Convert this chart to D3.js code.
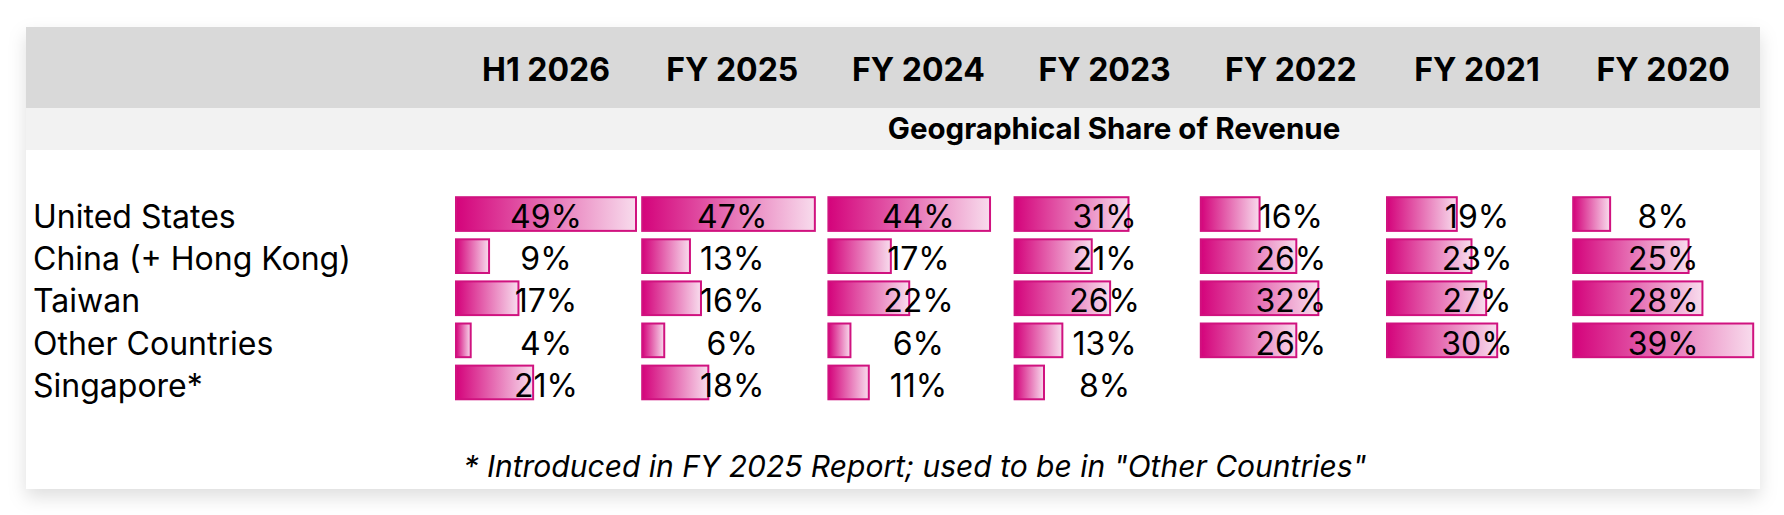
<!DOCTYPE html>
<html>
<head>
<meta charset="utf-8">
<script src="https://cdn.jsdelivr.net/npm/d3@7"></script>
<style>
  html, body { margin: 0; padding: 0; background: #ffffff; }
  svg { display: block; font-family: Inter, "Noto Sans", sans-serif; }
</style>
</head>
<body>
<div id="chart"></div>
<script>

// table data
const periods = ["H1 2026", "FY 2025", "FY 2024", "FY 2023", "FY 2022", "FY 2021", "FY 2020"]
const regions = ["United States", "China (+ Hong Kong)", "Taiwan", "Other Countries", "Singapore*"]

const unitedStates   = [49, 47, 44, 31, 16, 19, 8]
const china          = [9, 13, 17, 21, 26, 23, 25]
const taiwan         = [17, 16, 22, 26, 32, 27, 28]
const otherCountries = [4, 6, 6, 13, 26, 30, 39]
const singapore      = [21, 18, 11, 8, null, null, null]

const title    = "Geographical Share of Revenue"
const footnote = "* Introduced in FY 2025 Report; used to be in \"Other Countries\""

// layout
const width = 1784, height = 515
const card = {x: 26, y: 27, w: 1734, h: 462}
const colStep = 186.2
// the data bars come from two conditional format rules (FY 2020 has its own max)
const ruleGroup = [0, 0, 0, 0, 0, 0, 1]
const barMax = 180

const series = [unitedStates, china, taiwan, otherCountries, singapore]

let x = d3.scaleBand()
  .domain(periods)
  .range([456, 456 + periods.length * colStep])

let y = d3.scaleBand()
  .domain(regions)
  .range([193, 193 + 5 * 42.1])
  .paddingInner(0.2)
  .paddingOuter(0.1)

// one length scale per rule, like Excel's automatic max
let lenScales = d3.range(2).map(g => {
  let vals = []
  series.forEach(s => s.forEach((v, i) => { if (ruleGroup[i] == g && v != null) vals.push(v) }))
  return d3.scaleLinear().domain([0, d3.max(vals)]).range([0, barMax])
})

let svg = d3.select("#chart").append("svg")
  .attr("width", width)
  .attr("height", height)

let defs = svg.append("defs")

let shadow = defs.append("filter").attr("id", "shadow")
  .attr("x", "-5%").attr("y", "-10%").attr("width", "110%").attr("height", "130%")
shadow.append("feDropShadow")
  .attr("dx", 0).attr("dy", 8).attr("stdDeviation", 9)
  .attr("flood-color", "#000").attr("flood-opacity", 0.13)

let grad = defs.append("linearGradient").attr("id", "barGrad")
  .attr("x1", "0%").attr("x2", "100%").attr("y1", "0%").attr("y2", "0%")
grad.append("stop").attr("offset", "0%").attr("stop-color", "#d4037b")
grad.append("stop").attr("offset", "100%").attr("stop-color", "#f8dced")

// card + header bands
svg.append("rect")
  .attr("x", card.x).attr("y", card.y).attr("width", card.w).attr("height", card.h)
  .attr("fill", "#fff")
  .attr("filter", "url(#shadow)")

svg.append("rect")
  .attr("x", card.x).attr("y", card.y).attr("width", card.w).attr("height", 81)
  .attr("fill", "#d9d9d9")

svg.append("rect")
  .attr("x", card.x).attr("y", 108).attr("width", card.w).attr("height", 42)
  .attr("fill", "#f2f2f2")

let center = p => x(p) + barMax / 2

svg.append("g").selectAll("text")
  .data(periods)
  .enter()
  .append("text")
  .attr("x", d => center(d))
  .attr("y", 81)
  .attr("text-anchor", "middle")
  .attr("font-weight", 700)
  .attr("font-size", 32)
  .attr("fill", "#000")
  .text(d => d)

svg.append("text")
  .attr("x", 1114)
  .attr("y", 139)
  .attr("text-anchor", "middle")
  .attr("font-weight", 700)
  .attr("font-size", 29.5)
  .attr("fill", "#000")
  .text(title)

// row labels
svg.append("g").selectAll("text")
  .data(regions)
  .enter()
  .append("text")
  .attr("x", 33)
  .attr("y", d => y(d) + 31)
  .attr("font-size", 32)
  .attr("fill", "#000")
  .text(d => d)

let cells = []
series.forEach((s, r) => s.forEach((v, c) => {
  if (v != null) cells.push({region: regions[r], period: periods[c], col: c, value: v})
}))

// data bars
svg.append("g").selectAll("rect")
  .data(cells)
  .enter()
  .append("rect")
  .attr("x", d => x(d.period))
  .attr("y", d => y(d.region))
  .attr("width", d => lenScales[ruleGroup[d.col]](d.value))
  .attr("height", y.bandwidth())
  .attr("fill", "url(#barGrad)")
  .attr("stroke", "#d0127f")
  .attr("stroke-width", 2)

svg.append("g").selectAll("text")
  .data(cells)
  .enter()
  .append("text")
  .attr("x", d => center(d.period))
  .attr("y", d => y(d.region) + 31)
  .attr("text-anchor", "middle")
  .attr("font-size", 32)
  .attr("fill", "#000")
  .text(d => d.value + "%")

svg.append("text")
  .attr("x", 915)
  .attr("y", 477)
  .attr("text-anchor", "middle")
  .attr("font-style", "italic")
  .attr("font-size", 30)
  .attr("fill", "#000")
  .text(footnote)

</script>
</body>
</html>
